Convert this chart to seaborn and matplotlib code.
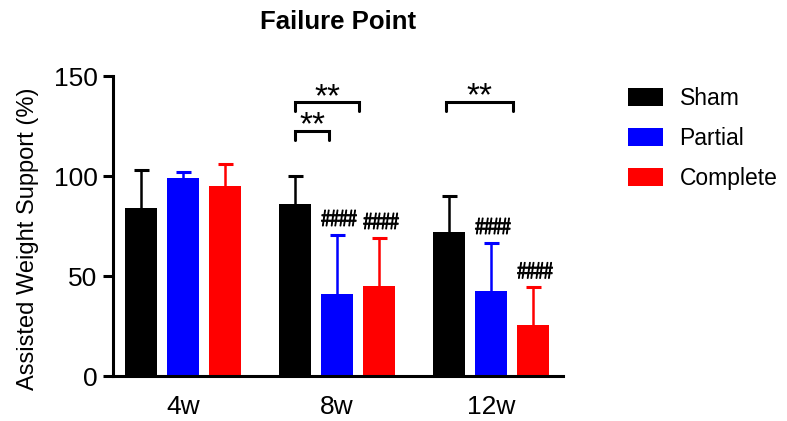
import matplotlib
matplotlib.use("Agg")
import matplotlib.pyplot as plt
from matplotlib.font_manager import FontProperties
from matplotlib.textpath import TextPath
from matplotlib.patches import PathPatch
from matplotlib.transforms import Affine2D, ScaledTranslation
import seaborn as sns
import pandas as pd

# ---- data ----
timepoints = ["4w", "8w", "12w"]
groups = ["Sham", "Partial", "Complete"]
sham_mean = [84, 86, 72]
partial_mean = [99, 41, 42.5]
complete_mean = [95, 45, 25.3]
sham_sd = [19, 14, 18]
partial_sd = [3, 29.5, 24]
complete_sd = [11, 24, 19]
# significance vs Sham within timepoint ("####")
hash_time = ["8w", "8w", "12w", "12w"]
hash_group = ["Partial", "Complete", "Partial", "Complete"]
hash_text = ["####", "####", "####", "####"]
# brackets (x in category units, y in data units)
bracket_x1 = [0.73, 0.73, 1.71]
bracket_x2 = [0.95, 1.145, 2.14]
bracket_y = [122.6, 136.8, 137.2]
bracket_text = ["**", "**", "**"]

colors = ["#000000", "#0000FF", "#FF0000"]

sns.set_style("ticks")
plt.rcParams["font.family"] = ["Liberation Sans", "DejaVu Sans"]
plt.rcParams.update({"text.color": "black", "axes.labelcolor": "black",
                     "xtick.color": "black", "ytick.color": "black",
                     "axes.edgecolor": "black"})

means = [sham_mean, partial_mean, complete_mean]
sds = [sham_sd, partial_sd, complete_sd]
rows = []
for g, m in zip(groups, means):
    for t, v in zip(timepoints, m):
        rows.append({"time": t, "group": g, "value": v})
df = pd.DataFrame(rows)

fig = plt.figure(figsize=(7.87, 4.21), dpi=100)
ax = fig.add_axes([113 / 787, 45 / 421, 450 / 787, 300 / 421])

sns.barplot(data=df, x="time", y="value", hue="group", order=timepoints,
            hue_order=groups, palette=colors, width=0.82, gap=0.24,
            errorbar=None, saturation=1, edgecolor="none", linewidth=0, ax=ax)

# error bars (upper only) from bar positions
bar_pos = {}
for gi, (cont, sd) in enumerate(zip(ax.containers, sds)):
    for ti, (bar, e) in enumerate(zip(cont, sd)):
        xc = bar.get_x() + bar.get_width() / 2
        h = bar.get_height()
        bar_pos[(timepoints[ti], groups[gi])] = (xc, h + e)
        eb = ax.errorbar([xc], [h], yerr=[[0], [e]], fmt="none", ecolor=colors[gi],
                         elinewidth=1.8, capsize=5.4, capthick=2.2, zorder=1)
        caps = eb.lines[1]
        if len(caps) > 1:
            caps[0].set_visible(False)

# condensed "####" marks drawn as scaled text paths (pixel units, dpi=100)
fp = FontProperties(family="Liberation Sans")
for t, g, s in zip(hash_time, hash_group, hash_text):
    xc, top = bar_pos[(t, g)]
    tp = TextPath((0, 0), s, size=20, prop=fp)
    bb = tp.get_extents()
    sx = 35.0 / bb.width
    sy = 16.0 / bb.height
    tr = (Affine2D().translate(-(bb.x0 + bb.width / 2), -bb.y0)
          .scale(sx, sy).translate(2, 9)
          + ScaledTranslation(xc, top, ax.transData))
    ax.add_patch(PathPatch(tp, transform=tr, facecolor="black",
                           edgecolor="black", linewidth=0.7, clip_on=False))

leg_h = 4.5
for x1, x2, y, s in zip(bracket_x1, bracket_x2, bracket_y, bracket_text):
    ax.plot([x1, x1, x2, x2], [y - leg_h, y, y, y - leg_h], color="black",
            lw=2.2, solid_joinstyle="miter", clip_on=False)
    ax.annotate(s, xy=((x1 + x2) / 2, y), xytext=(0, -2.5),
                textcoords="offset points", ha="center", va="baseline",
                fontsize=24)

ax.set_xlim(-0.455, 2.468)
ax.set_ylim(0, 150)
ax.set_yticks([0, 50, 100, 150])
sns.despine(ax=ax)
for sp in ["left", "bottom"]:
    ax.spines[sp].set_linewidth(2.2)
ax.tick_params(axis="y", length=7.2, width=2.2, labelsize=19, pad=4)
ax.tick_params(axis="x", length=0, labelsize=19, pad=14)
ax.set_xlabel("")
ax.set_ylabel("Assisted Weight Support (%)", fontsize=17)
ax.yaxis.set_label_coords(-0.165, 0.457)
ax.set_title("Failure Point", fontsize=18.5, fontweight="bold", pad=34)

handles, labels = ax.get_legend_handles_labels()
ax.legend(handles, labels, loc="upper left",
          bbox_to_anchor=(627.7 / 787, (421 - 87) / 421),
          bbox_transform=fig.transFigure, frameon=False, fontsize=16.5,
          handlelength=1.56, handleheight=0.84, handletextpad=0.7,
          labelspacing=0.75, borderpad=0, borderaxespad=0)

fig.savefig("out.png", dpi=100)
